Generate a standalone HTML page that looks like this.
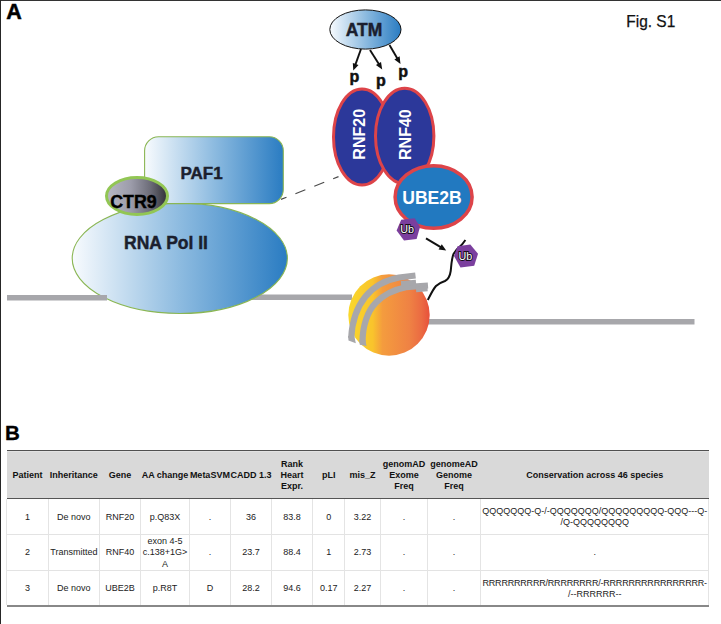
<!DOCTYPE html>
<html><head><meta charset="utf-8">
<style>
html,body{margin:0;padding:0;background:#fff;}
body{width:721px;height:624px;position:relative;overflow:hidden;font-family:"Liberation Sans",sans-serif;}
svg{position:absolute;left:0;top:0;}
.t{position:absolute;font-size:9px;color:#222;text-align:center;line-height:11px;white-space:nowrap;}
.c{position:absolute;display:flex;align-items:center;justify-content:center;text-align:center;font-size:9px;line-height:11.4px;color:#222;white-space:nowrap;}
.h{font-weight:bold;color:#111;line-height:11.25px;}
.vl{position:absolute;top:499px;height:106px;width:1px;background:#e4e4e4;}
</style></head><body>
<svg width="721" height="624" viewBox="0 0 721 624">
<defs>
<linearGradient id="gb" x1="0" y1="0" x2="1" y2="0">
<stop offset="0" stop-color="#f8fbfe"/><stop offset="0.5" stop-color="#8dbbe0"/><stop offset="1" stop-color="#2a7cc2"/>
</linearGradient>
<linearGradient id="gg" x1="0" y1="0" x2="1" y2="0">
<stop offset="0" stop-color="#b8b8c4"/><stop offset="0.4" stop-color="#9c9caa"/><stop offset="0.72" stop-color="#6c6c78"/><stop offset="1" stop-color="#303036"/>
</linearGradient>
<linearGradient id="go" x1="0" y1="0" x2="1" y2="0">
<stop offset="0" stop-color="#f9d82c"/><stop offset="0.3" stop-color="#f9c42c"/><stop offset="0.42" stop-color="#f49c3e"/><stop offset="0.75" stop-color="#ef8244"/><stop offset="0.9" stop-color="#eb6a42"/><stop offset="1" stop-color="#e8503a"/>
</linearGradient>
</defs>
<!-- borders -->
<rect x="0" y="0" width="721" height="1" fill="#333"/>
<rect x="0" y="0" width="1" height="624" fill="#262626"/>
<!-- labels -->
<text x="6.3" y="19.2" font-family="Liberation Sans" font-weight="bold" font-size="21.5" fill="#000" stroke="#000" stroke-width="0.5">A</text>
<text x="626.3" y="27" font-family="Liberation Sans" font-size="16.1" fill="#111" stroke="#111" stroke-width="0.25" textLength="49" lengthAdjust="spacingAndGlyphs">Fig. S1</text>
<text x="5" y="439.6" font-family="Liberation Sans" font-weight="bold" font-size="20.5" fill="#000" stroke="#000" stroke-width="0.3">B</text>

<!-- DNA lines -->
<rect x="250" y="294.5" width="102" height="5.5" fill="#a7a7ab"/>
<rect x="425" y="319" width="269.5" height="5.5" fill="#a7a7ab"/>

<!-- RNA Pol II -->
<ellipse cx="179.8" cy="258.3" rx="107.6" ry="55.2" fill="url(#gb)" stroke="#8ab654" stroke-width="1.1"/>
<rect x="7" y="295" width="100" height="5.5" fill="#a7a7ab"/>
<text x="166" y="249" text-anchor="middle" font-family="Liberation Sans" font-weight="bold" font-size="17.5" fill="#1b1f2e" stroke="#1b1f2e" stroke-width="0.45">RNA Pol II</text>
<!-- PAF1 -->
<rect x="144.6" y="136.8" width="138.7" height="66.8" rx="14" fill="url(#gb)" stroke="#8ab654" stroke-width="1.1"/>
<text x="201.5" y="179.4" text-anchor="middle" font-family="Liberation Sans" font-weight="bold" font-size="17" fill="#1b1f2e" stroke="#1b1f2e" stroke-width="0.45">PAF1</text>
<!-- CTR9 -->
<ellipse cx="137" cy="196" rx="30.5" ry="18.5" fill="url(#gg)" stroke="#92c654" stroke-width="3"/>
<text x="133.5" y="207.7" text-anchor="middle" font-family="Liberation Sans" font-weight="bold" font-size="17.8" fill="#000" stroke="#000" stroke-width="0.4">CTR9</text>
<!-- dashed -->
<line x1="281" y1="199.4" x2="338.5" y2="176.6" stroke="#4a4a4a" stroke-width="1.15" stroke-dasharray="10.7 9.6" stroke-dashoffset="4.8"/>

<!-- ATM -->
<ellipse cx="365.4" cy="29.5" rx="35.6" ry="19.6" fill="url(#gb)" stroke="#111" stroke-width="1"/>
<text x="364" y="36" text-anchor="middle" font-family="Liberation Sans" font-weight="bold" font-size="17.5" fill="#1b1f2e" stroke="#1b1f2e" stroke-width="0.45">ATM</text>
<!-- arrows -->
<g stroke="#111" stroke-width="1.9">
<line x1="361" y1="49" x2="355.3" y2="64.9"/>
<line x1="370" y1="50" x2="379.0" y2="64.3"/>
<line x1="389.5" y1="45" x2="397.5" y2="58.7"/>
</g>
<g fill="#111">
<polygon points="353.3,70.5 352.8,62.9 358.5,64.9"/>
<polygon points="382.2,69.4 375.9,65.1 381.0,61.9"/>
<polygon points="400.5,63.9 394.4,59.4 399.6,56.3"/>
</g>
<g font-family="Liberation Sans" font-weight="bold" font-size="16" fill="#111" stroke="#111" stroke-width="0.5">
<text x="349.5" y="81.6">p</text>
<text x="376" y="85.5">p</text>
<text x="398.2" y="77.3">p</text>
</g>

<!-- RNF20 / RNF40 -->
<ellipse cx="362" cy="137" rx="28.5" ry="48" fill="#2c389a" stroke="#dd4449" stroke-width="3"/>
<ellipse cx="404.7" cy="136" rx="29.2" ry="47.8" fill="#2c389a" stroke="#dd4449" stroke-width="3"/>
<text transform="translate(365,134.3) rotate(-90)" text-anchor="middle" font-family="Liberation Sans" font-weight="bold" font-size="16" fill="#fff">RNF20</text>
<text transform="translate(411,134.6) rotate(-90)" text-anchor="middle" font-family="Liberation Sans" font-weight="bold" font-size="16" fill="#fff">RNF40</text>

<!-- UBE2B -->
<ellipse cx="433.6" cy="197" rx="38.5" ry="31.3" fill="#2279c0" stroke="#dd4449" stroke-width="3.5"/>
<text x="432" y="204.2" text-anchor="middle" font-family="Liberation Sans" font-weight="bold" font-size="17.6" fill="#fff">UBE2B</text>

<!-- nucleosome -->
<circle cx="389" cy="315" r="40.7" fill="url(#go)"/>
<g fill="none" stroke="#a7a7ab" stroke-width="6.2" stroke-linecap="butt">
<path d="M351.2,338 C352,322 357,307 365.5,296.5 C374,286 386,280 399,277.5 L415.5,275.5"/>
<path d="M362.5,342 C362.5,326 367.5,311 376,302.5 C384,294.5 394,289.5 406,287.2 L428,285.5"/>
</g>
<g fill="none" stroke="#a7a7ab" stroke-width="5.5"><path d="M401,283.8 L416,282.6"/><path d="M416,289.5 L427.5,288.6"/></g>
<g fill="#a7a7ab"><polygon points="348.1,336 354.3,336 355.8,343.3 348.5,340.5"/><polygon points="359.2,340 365.4,340 366.5,346 359.8,344.8"/></g>
<!-- black curve -->
<path d="M427.8,300 C430,296 432.5,290 436,286 C439,283 442,282 445,281 C448,279.5 450,276 450.7,271 C451.3,266 451.5,259 453.5,254 C455.5,250.5 459,247 462,244.5 L465.4,240" fill="none" stroke="#111" stroke-width="2"/>
<!-- Ub arrow -->
<g stroke="#111" stroke-width="2"><line x1="426" y1="238.4" x2="441.1" y2="247.4"/></g>
<g fill="#111"><polygon points="446.2,250.5 438.6,249.6 441.8,244.2"/></g>
<!-- Ub hexagons -->
<polygon points="396.6,230.6 401.2,219.8 414.7,218.3 420,227 416.6,239 404,240.4" fill="#7b3f9e"/>
<polygon points="454,256 457.5,246.2 470.3,244.5 478,253.8 474.2,265.8 460.5,267.4" fill="#7b3f9e"/>
<g font-family="Liberation Sans" font-size="11.2" fill="#ffffff" stroke="#140c18" stroke-width="1.9" paint-order="stroke">
<text transform="translate(400.3,233.3) scale(0.96,1)">Ub</text>
<text transform="translate(458.4,260.2) scale(0.96,1)">Ub</text>
</g>
</svg>

<!-- table -->
<div style="position:absolute;left:7px;top:450px;width:702px;height:48px;background:#d9d9d9;"></div>
<div style="position:absolute;left:7px;top:449.8px;width:702px;height:1.2px;background:#505050;"></div>
<div style="position:absolute;left:7px;top:451px;width:702px;height:1px;background:#e2e2e2;"></div>
<div style="position:absolute;left:7px;top:498px;width:702px;height:1px;background:#555;"></div>
<div style="position:absolute;left:7px;top:605px;width:702px;height:1.5px;background:#888;"></div>
<div style="position:absolute;left:7px;top:534px;width:702px;height:1px;background:#e3e3e3;"></div>
<div style="position:absolute;left:7px;top:570px;width:702px;height:1px;background:#e3e3e3;"></div>
<div class="vl" style="left:6px"></div>
<div class="vl" style="left:48px"></div>
<div class="vl" style="left:99px"></div>
<div class="vl" style="left:140px"></div>
<div class="vl" style="left:189px"></div>
<div class="vl" style="left:230px"></div>
<div class="vl" style="left:271px"></div>
<div class="vl" style="left:312px"></div>
<div class="vl" style="left:344px"></div>
<div class="vl" style="left:380px"></div>
<div class="vl" style="left:427px"></div>
<div class="vl" style="left:480px"></div>
<div class="vl" style="left:708px"></div>
<div class="c h" style="left:-72.6px;top:451.6px;width:200px;height:48.4px"><div>Patient</div></div>
<div class="c h" style="left:-26.2px;top:451.6px;width:200px;height:48.4px"><div>Inheritance</div></div>
<div class="c h" style="left:20.0px;top:451.6px;width:200px;height:48.4px"><div>Gene</div></div>
<div class="c h" style="left:65.0px;top:451.6px;width:200px;height:48.4px"><div>AA change</div></div>
<div class="c h" style="left:109.9px;top:451.6px;width:200px;height:48.4px"><div>MetaSVM</div></div>
<div class="c h" style="left:151.0px;top:451.6px;width:200px;height:48.4px"><div>CADD 1.3</div></div>
<div class="c h" style="left:192.1px;top:451.6px;width:200px;height:48.4px"><div>Rank<br>Heart<br>Expr.</div></div>
<div class="c h" style="left:228.8px;top:451.6px;width:200px;height:48.4px"><div>pLI</div></div>
<div class="c h" style="left:262.6px;top:451.6px;width:200px;height:48.4px"><div>mis_Z</div></div>
<div class="c h" style="left:304.1px;top:451.6px;width:200px;height:48.4px"><div>genomAD<br>Exome<br>Freq</div></div>
<div class="c h" style="left:354.1px;top:451.6px;width:200px;height:48.4px"><div>genomeAD<br>Genome<br>Freq</div></div>
<div class="c h" style="left:494.7px;top:451.6px;width:200px;height:48.4px"><div>Conservation across 46 species</div></div>
<div class="c" style="left:-102.6px;top:499.3px;width:260px;height:35.9px"><div>1</div></div>
<div class="c" style="left:-56.2px;top:499.3px;width:260px;height:35.9px"><div>De novo</div></div>
<div class="c" style="left:-10.0px;top:499.3px;width:260px;height:35.9px"><div>RNF20</div></div>
<div class="c" style="left:35.0px;top:499.3px;width:260px;height:35.9px"><div>p.Q83X</div></div>
<div class="c" style="left:79.9px;top:499.3px;width:260px;height:35.9px"><div>.</div></div>
<div class="c" style="left:121.0px;top:499.3px;width:260px;height:35.9px"><div>36</div></div>
<div class="c" style="left:162.1px;top:499.3px;width:260px;height:35.9px"><div>83.8</div></div>
<div class="c" style="left:198.8px;top:499.3px;width:260px;height:35.9px"><div>0</div></div>
<div class="c" style="left:232.6px;top:499.3px;width:260px;height:35.9px"><div>3.22</div></div>
<div class="c" style="left:274.1px;top:499.3px;width:260px;height:35.9px"><div>.</div></div>
<div class="c" style="left:324.1px;top:499.3px;width:260px;height:35.9px"><div>.</div></div>
<div class="c" style="left:464.7px;top:499.3px;width:260px;height:35.9px"><div>QQQQQQQ-Q-/-QQQQQQQ/QQQQQQQQQ-QQQ---Q-<br>/Q-QQQQQQQQ</div></div>
<div class="c" style="left:-102.6px;top:535.2px;width:260px;height:36.0px"><div>2</div></div>
<div class="c" style="left:-56.2px;top:535.2px;width:260px;height:36.0px"><div>Transmitted</div></div>
<div class="c" style="left:-10.0px;top:535.2px;width:260px;height:36.0px"><div>RNF40</div></div>
<div class="c" style="left:35.0px;top:535.2px;width:260px;height:36.0px"><div>exon 4-5<br>c.138+1G&gt;<br>A</div></div>
<div class="c" style="left:79.9px;top:535.2px;width:260px;height:36.0px"><div>.</div></div>
<div class="c" style="left:121.0px;top:535.2px;width:260px;height:36.0px"><div>23.7</div></div>
<div class="c" style="left:162.1px;top:535.2px;width:260px;height:36.0px"><div>88.4</div></div>
<div class="c" style="left:198.8px;top:535.2px;width:260px;height:36.0px"><div>1</div></div>
<div class="c" style="left:232.6px;top:535.2px;width:260px;height:36.0px"><div>2.73</div></div>
<div class="c" style="left:274.1px;top:535.2px;width:260px;height:36.0px"><div>.</div></div>
<div class="c" style="left:324.1px;top:535.2px;width:260px;height:36.0px"><div>.</div></div>
<div class="c" style="left:464.7px;top:535.2px;width:260px;height:36.0px"><div>.</div></div>
<div class="c" style="left:-102.6px;top:571.2px;width:260px;height:35.5px"><div>3</div></div>
<div class="c" style="left:-56.2px;top:571.2px;width:260px;height:35.5px"><div>De novo</div></div>
<div class="c" style="left:-10.0px;top:571.2px;width:260px;height:35.5px"><div>UBE2B</div></div>
<div class="c" style="left:35.0px;top:571.2px;width:260px;height:35.5px"><div>p.R8T</div></div>
<div class="c" style="left:79.9px;top:571.2px;width:260px;height:35.5px"><div>D</div></div>
<div class="c" style="left:121.0px;top:571.2px;width:260px;height:35.5px"><div>28.2</div></div>
<div class="c" style="left:162.1px;top:571.2px;width:260px;height:35.5px"><div>94.6</div></div>
<div class="c" style="left:198.8px;top:571.2px;width:260px;height:35.5px"><div>0.17</div></div>
<div class="c" style="left:232.6px;top:571.2px;width:260px;height:35.5px"><div>2.27</div></div>
<div class="c" style="left:274.1px;top:571.2px;width:260px;height:35.5px"><div>.</div></div>
<div class="c" style="left:324.1px;top:571.2px;width:260px;height:35.5px"><div>.</div></div>
<div class="c" style="left:464.7px;top:571.2px;width:260px;height:35.5px"><div><span style="letter-spacing:-0.2px">RRRRRRRRRR/RRRRRRRR/-RRRRRRRRRRRRRRRR-</span><br>/--RRRRRR--</div></div>
</body></html>
